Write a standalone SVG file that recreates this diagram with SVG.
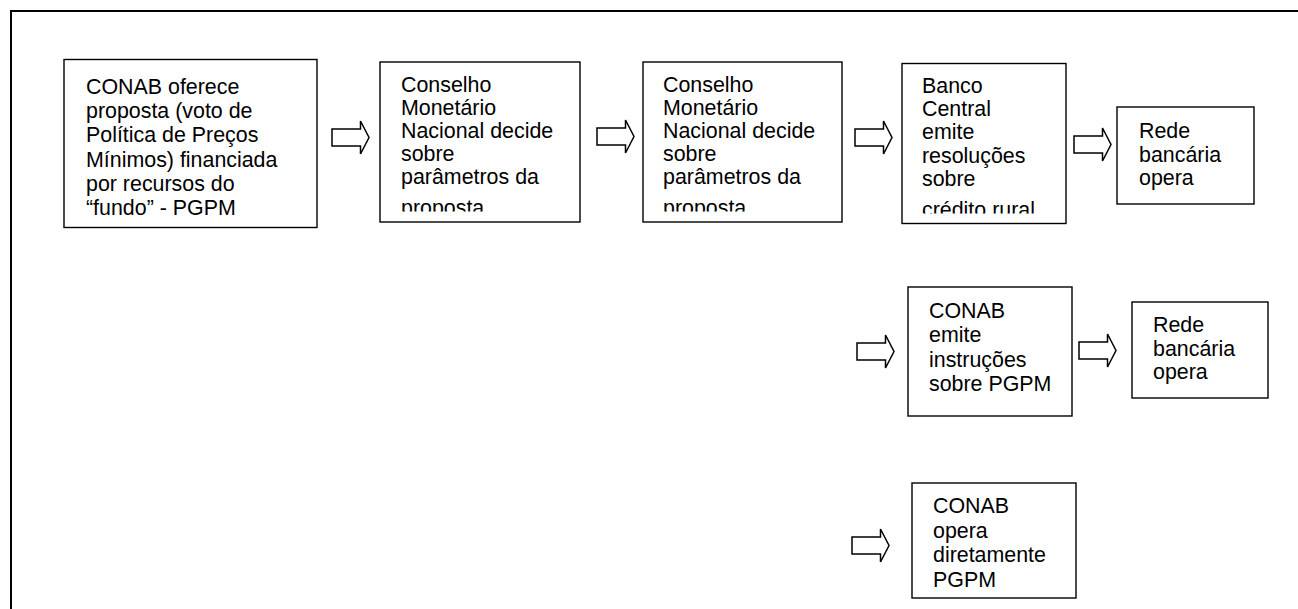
<svg xmlns="http://www.w3.org/2000/svg" width="1298" height="609" viewBox="0 0 1298 609">
<style>
.box{fill:#fff;stroke:#000;stroke-width:1.4}
.t{font-family:"Liberation Sans",Arial,sans-serif;font-size:21.4px;fill:#000}
.arr{fill:#fff;stroke:#000;stroke-width:1.5;stroke-linejoin:miter}
.frame{fill:none;stroke:#000;stroke-width:2}
</style>
<defs>
<path id="arrow" d="M0,8 H28.5 V0 L37,16.5 L28.5,33 V25 H0 Z"/>
<clipPath id="c2"><rect x="380" y="62" width="200" height="149.5"/></clipPath>
<clipPath id="c3"><rect x="643" y="62" width="199" height="149.5"/></clipPath>
<clipPath id="c4"><rect x="902" y="63" width="164" height="150.5"/></clipPath>
</defs>
<path class="frame" d="M11,609 V11 H1298"/>
<g id="n1">
<rect class="box" x="64" y="59.5" width="253" height="168"/>
<text class="t" x="86" y="94"><tspan x="86">CONAB oferece</tspan><tspan x="86" dy="24.2">proposta (voto de</tspan><tspan x="86" dy="24.2">Política de Preços</tspan><tspan x="86" dy="24.2">Mínimos) financiada</tspan><tspan x="86" dy="24.2">por recursos do</tspan><tspan x="86" dy="24.2">“fundo” - PGPM</tspan></text>
</g>
<g id="n2">
<rect class="box" x="380" y="62" width="200" height="160"/>
<text class="t" x="401" y="92" clip-path="url(#c2)"><tspan x="401">Conselho</tspan><tspan x="401" dy="23">Monetário</tspan><tspan x="401" dy="23">Nacional decide</tspan><tspan x="401" dy="23">sobre</tspan><tspan x="401" dy="23.2">parâmetros da</tspan><tspan x="401" dy="30.5">proposta</tspan></text>
</g>
<g id="n3">
<rect class="box" x="643" y="62" width="199" height="160"/>
<text class="t" x="663" y="92" clip-path="url(#c3)"><tspan x="663">Conselho</tspan><tspan x="663" dy="23">Monetário</tspan><tspan x="663" dy="23">Nacional decide</tspan><tspan x="663" dy="23">sobre</tspan><tspan x="663" dy="23.2">parâmetros da</tspan><tspan x="663" dy="30.5">proposta</tspan></text>
</g>
<g id="n4">
<rect class="box" x="902" y="63.5" width="164" height="160"/>
<text class="t" x="922" y="93" clip-path="url(#c4)"><tspan x="922">Banco</tspan><tspan x="922" dy="23.2">Central</tspan><tspan x="922" dy="23.2">emite</tspan><tspan x="922" dy="23.2">resoluções</tspan><tspan x="922" dy="23.4">sobre</tspan><tspan x="922" dy="31">crédito rural</tspan></text>
</g>
<g id="n5">
<rect class="box" x="1117" y="107" width="137" height="97"/>
<text class="t" x="1139" y="138"><tspan x="1139">Rede</tspan><tspan x="1139" dy="23.5">bancária</tspan><tspan x="1139" dy="23.5">opera</tspan></text>
</g>
<g id="n6">
<rect class="box" x="908" y="287" width="164" height="129"/>
<text class="t" x="929" y="318"><tspan x="929">CONAB</tspan><tspan x="929" dy="24.3">emite</tspan><tspan x="929" dy="24.3">instruções</tspan><tspan x="929" dy="24.3">sobre PGPM</tspan></text>
</g>
<g id="n7">
<rect class="box" x="1132" y="302" width="136" height="96"/>
<text class="t" x="1153" y="332"><tspan x="1153">Rede</tspan><tspan x="1153" dy="23.5">bancária</tspan><tspan x="1153" dy="23.5">opera</tspan></text>
</g>
<g id="n8">
<rect class="box" x="912" y="483" width="164" height="115"/>
<text class="t" x="933" y="513"><tspan x="933">CONAB</tspan><tspan x="933" dy="24.6">opera</tspan><tspan x="933" dy="24.6">diretamente</tspan><tspan x="933" dy="24.6">PGPM</tspan></text>
</g>
<g id="connectors">
<use href="#arrow" class="arr" x="332" y="121"/>
<use href="#arrow" class="arr" x="597" y="120"/>
<use href="#arrow" class="arr" x="855" y="121"/>
<use href="#arrow" class="arr" x="1074" y="128"/>
<use href="#arrow" class="arr" x="857" y="335"/>
<use href="#arrow" class="arr" x="1079" y="334"/>
<use href="#arrow" class="arr" x="852" y="529"/>
</g>
</svg>
